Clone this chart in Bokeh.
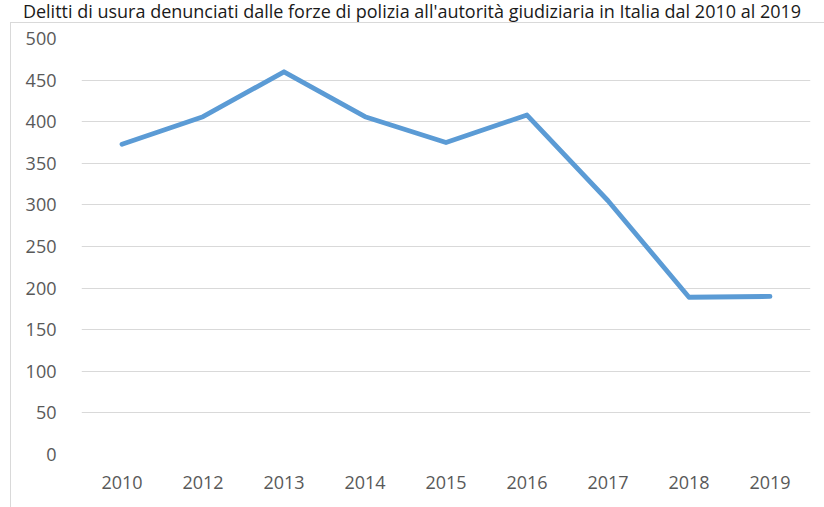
from bokeh.plotting import figure
from bokeh.models import FactorRange, Range1d, FixedTicker, Div
from bokeh.layouts import column
from bokeh.embed import file_html
from bokeh.resources import INLINE

# ---- data ----
years = ["2010", "2012", "2013", "2014", "2015", "2016", "2017", "2018", "2019"]
crimes = [373, 406, 460, 406, 375, 408, 305, 189, 190]
y_ticks = [0, 50, 100, 150, 200, 250, 300, 350, 400, 450, 500]
title_text = "Delitti di usura denunciati dalle forze di polizia all'autorità giudiziaria in Italia dal 2010 al 2019"

FONT = "Open Sans"
LABEL_COLOR = "#595959"
GRID_COLOR = "#D9D9D9"
LINE_COLOR = "#5B9BD5"

W, H = 824, 507
TITLE_H = 22
FRAME_X = 10
PW, PH = W - FRAME_X, H - TITLE_H          # figure size
LEFT, RIGHT, TOP, BOTTOM = 80, 809, 37, 453  # plot area in page pixels

title = Div(text=title_text, width=W, height=TITLE_H, margin=(0, 0, 0, 0),
            styles={"font-family": FONT, "font-size": "18px", "color": "#1a1a1a",
                    "text-align": "center", "line-height": f"{TITLE_H}px",
                    "white-space": "nowrap", "overflow": "hidden",
                    "margin": "0", "padding": "0"})

p = figure(
    width=PW, height=PH,
    x_range=FactorRange(*years),
    y_range=Range1d(0, 500),
    output_backend="svg",
    toolbar_location=None,
    min_border_left=LEFT - FRAME_X, min_border_right=W - RIGHT,
    min_border_top=TOP - TITLE_H, min_border_bottom=H - BOTTOM,
    margin=(0, 0, 0, FRAME_X),
    styles={"border-left": f"1px solid {GRID_COLOR}", "border-top": f"1px solid {GRID_COLOR}"},
)
p.outline_line_color = None
p.background_fill_color = "white"
p.border_fill_color = "white"

p.line(x=years, y=crimes, line_width=4.8, line_color=LINE_COLOR,
       line_join="round", line_cap="round")

# axes
p.yaxis.ticker = FixedTicker(ticks=y_ticks)
p.ygrid.ticker = FixedTicker(ticks=y_ticks)
p.ygrid.grid_line_color = GRID_COLOR
p.ygrid.grid_line_width = 1
p.xgrid.grid_line_color = None

for ax in (p.xaxis[0], p.yaxis[0]):
    ax.axis_line_color = None
    ax.major_tick_line_color = None
    ax.minor_tick_line_color = None
    ax.major_label_text_font = FONT
    ax.major_label_text_font_size = "18px"
    ax.major_label_text_color = LABEL_COLOR
p.yaxis.major_label_standoff = 19
p.xaxis.major_label_standoff = 15
p.x_range.range_padding = 0
p.x_range.group_padding = 0

root = column(title, p, spacing=0)

with open("out.html", "w", encoding="utf-8") as f:
    f.write(file_html(root, INLINE))
